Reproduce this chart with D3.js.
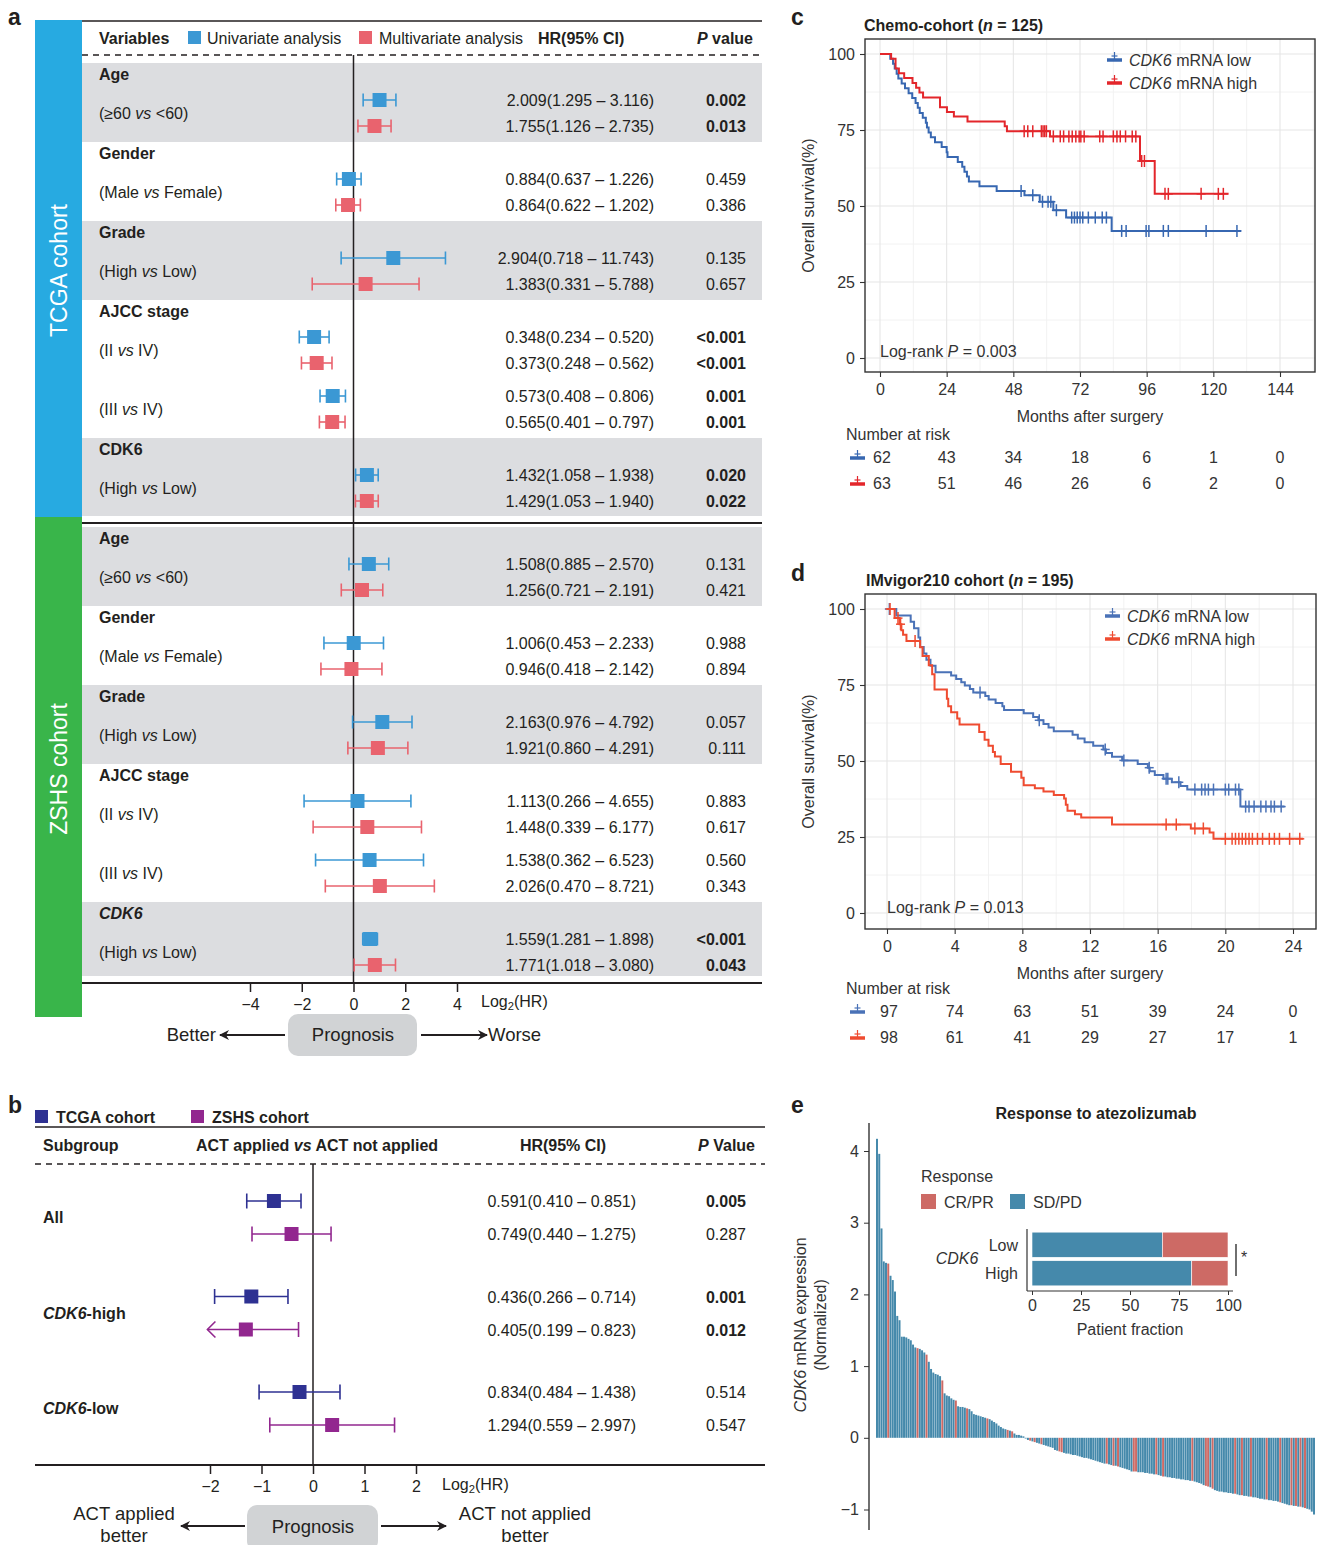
<!DOCTYPE html>
<html>
<head>
<meta charset="utf-8">
<script src="https://cdn.jsdelivr.net/npm/d3@7"></script>
<style>
body { margin: 0; background: #fff; }
svg { font-family: 'Liberation Sans', Arial, Helvetica, sans-serif; }
</style>
</head>
<body>
<div id="chart"></div>
<script>
// ---------- panel a data ----------
var aGroups = ['Age', 'Gender', 'Grade', 'AJCC stage', 'CDK6'];
var aContrasts = ['≥60 vs <60', 'Male vs Female', 'High vs Low', 'II vs IV', 'III vs IV', 'High vs Low'];
var aContrastGroup = [0, 1, 2, 3, 3, 4];

var tcgaUniHR = [2.009, 0.884, 2.904, 0.348, 0.573, 1.432];
var tcgaUniLo = [1.295, 0.637, 0.718, 0.234, 0.408, 1.058];
var tcgaUniHi = [3.116, 1.226, 11.743, 0.520, 0.806, 1.938];
var tcgaUniP = ['0.002', '0.459', '0.135', '<0.001', '0.001', '0.020'];
var tcgaMultiHR = [1.755, 0.864, 1.383, 0.373, 0.565, 1.429];
var tcgaMultiLo = [1.126, 0.622, 0.331, 0.248, 0.401, 1.053];
var tcgaMultiHi = [2.735, 1.202, 5.788, 0.562, 0.797, 1.940];
var tcgaMultiP = ['0.013', '0.386', '0.657', '<0.001', '0.001', '0.022'];

var zshsUniHR = [1.508, 1.006, 2.163, 1.113, 1.538, 1.559];
var zshsUniLo = [0.885, 0.453, 0.976, 0.266, 0.362, 1.281];
var zshsUniHi = [2.570, 2.233, 4.792, 4.655, 6.523, 1.898];
var zshsUniP = ['0.131', '0.988', '0.057', '0.883', '0.560', '<0.001'];
var zshsMultiHR = [1.256, 0.946, 1.921, 1.448, 2.026, 1.771];
var zshsMultiLo = [0.721, 0.418, 0.860, 0.339, 0.470, 1.018];
var zshsMultiHi = [2.191, 2.142, 4.291, 6.177, 8.721, 3.080];
var zshsMultiP = ['0.421', '0.894', '0.111', '0.617', '0.343', '0.043'];

var aTicks = [-4, -2, 0, 2, 4];

// ---------- panel b data ----------
var bSubgroups = ['All', 'CDK6-high', 'CDK6-low'];
var bTcgaHR = [0.591, 0.436, 0.834];
var bTcgaLo = [0.410, 0.266, 0.484];
var bTcgaHi = [0.851, 0.714, 1.438];
var bTcgaP = ['0.005', '0.001', '0.514'];
var bZshsHR = [0.749, 0.405, 1.294];
var bZshsLo = [0.440, 0.199, 0.559];
var bZshsHi = [1.275, 0.823, 2.997];
var bZshsP = ['0.287', '0.012', '0.547'];
var bTicks = [-2, -1, 0, 1, 2];

// ---------- panel c data (Kaplan-Meier steps) ----------
var cTicks = [0, 24, 48, 72, 96, 120, 144];
var cLowT = [0, 3.7, 4.7, 5.3, 6.0, 6.6, 7.8, 9.0, 10.3, 11.6, 12.8, 13.6, 14.3, 15.4, 16.5, 16.9, 17.5, 18.3, 19.8, 22.2, 24.0, 24.3, 28.0, 29.6, 30.4, 31.3, 32.0, 35.8, 42.0, 52.0, 57.5, 62.4, 67.0, 83.4];
var cLowS = [100, 98.4, 96.8, 95.2, 93.5, 91.9, 90.3, 88.7, 87.1, 85.5, 83.9, 82.3, 80.6, 79.0, 77.4, 75.8, 74.2, 72.6, 71.0, 69.4, 67.7, 66.1, 64.5, 62.9, 61.3, 59.7, 58.1, 56.5, 54.9, 53.5, 51.4, 48.6, 46.2, 41.8];
var cLowCens = [50.8, 55.0, 58.5, 60.5, 61.5, 63.5, 69, 70, 71, 72, 73, 75, 77.5, 80, 81.5, 87, 88.6, 95.8, 96.8, 102, 103.8, 117.4, 128.5];
var cLowEnd = 130;
var cHighT = [0, 4.0, 5.6, 6.8, 8.7, 11.7, 13.0, 14.2, 15.5, 21.6, 24.1, 26.6, 31.5, 44.9, 45.7, 61.2, 93.6, 98.9];
var cHighS = [100, 98.4, 95.2, 93.7, 92.1, 90.5, 88.9, 87.3, 85.7, 82.5, 80.9, 79.4, 77.8, 76.2, 74.6, 72.9, 64.8, 54.0];
var cHighCens = [51.9, 53.2, 55, 58.1, 58.7, 59.3, 59.9, 62.4, 64.9, 66.1, 68, 69.2, 70.5, 71.7, 72.3, 73.5, 79.1, 80.3, 84, 85.3, 86.5, 88.4, 90.8, 92.1, 94.2, 95.2, 102.6, 103.8, 115.6, 121.8, 123.6];
var cHighEnd = 125.5;
var cRiskLow = [62, 43, 34, 18, 6, 1, 0];
var cRiskHigh = [63, 51, 46, 26, 6, 2, 0];

// ---------- panel d data ----------
var dTicks = [0, 4, 8, 12, 16, 20, 24];
var dLowT = [0, 0.55, 1.4, 1.6, 1.86, 1.96, 2.17, 2.33, 2.57, 2.87, 3.79, 4.09, 4.39, 4.6, 4.9, 5.1, 5.81, 6.01, 6.42, 6.82, 6.92, 8.08, 8.64, 8.95, 9.25, 9.55, 9.86, 10.97, 11.28, 11.68, 12.19, 12.79, 12.94, 13.3, 13.9, 14.82, 15.42, 15.53, 15.83, 16.34, 16.84, 17.35, 17.75, 20.89];
var dLowS = [100, 97.9, 95.8, 93.7, 90.6, 87.5, 85.4, 83.3, 81.3, 79.2, 78.1, 77.0, 75.9, 74.8, 73.7, 72.5, 71.4, 70.2, 69.1, 68.0, 66.8, 65.7, 64.5, 63.4, 62.2, 61.0, 59.8, 58.6, 57.4, 56.2, 55.0, 53.8, 52.6, 51.4, 50.2, 49.0, 47.8, 46.6, 45.4, 44.2, 43.0, 41.8, 40.6, 35.0];
var dLowCens = [0.14, 5.5, 9.0, 12.9, 14.0, 15.5, 16.5, 16.6, 17.25, 18.2, 18.6, 18.8, 19.0, 19.3, 20.0, 20.2, 20.6, 20.8, 21.2, 21.4, 21.7, 22.1, 22.4, 22.7, 22.9, 23.3];
var dLowEnd = 23.5;
var dHighT = [0, 0.45, 0.75, 0.85, 0.95, 1.15, 1.96, 2.1, 2.47, 2.67, 2.81, 3.54, 3.62, 3.79, 4.15, 4.29, 5.45, 5.77, 6.0, 6.26, 6.38, 6.72, 7.33, 7.94, 8.08, 8.74, 9.25, 9.86, 10.47, 10.57, 10.67, 11.11, 11.48, 13.3, 17.96, 19.07, 19.3];
var dHighS = [100, 97.0, 95.0, 93.0, 91.5, 89.5, 87.4, 84.5, 81.5, 78.5, 73.5, 70.5, 68.0, 66.0, 64.0, 62.0, 59.5, 57.0, 55.0, 53.0, 51.5, 49.0, 46.5, 44.5, 42.0, 41.0, 40.0, 38.8, 37.7, 35.6, 33.6, 32.5, 31.4, 29.1, 27.8, 26.5, 24.4];
var dHighCens = [0.18, 0.65, 0.8, 1.66, 16.5, 17.1, 18.2, 18.7, 20.0, 20.4, 20.6, 20.8, 21.0, 21.2, 21.4, 21.6, 21.9, 22.2, 22.6, 22.9, 23.2, 23.8, 24.4];
var dHighEnd = 24.6;
var dRiskLow = [97, 74, 63, 51, 39, 24, 0];
var dRiskHigh = [98, 61, 41, 29, 27, 17, 1];

// ---------- panel e data ----------
var expr = [
  4.17, 3.96, 2.92, 2.46, 2.44, 2.43, 2.26, 2.20, 2.04, 1.70,
  1.64, 1.41, 1.41, 1.40, 1.38, 1.36, 1.30, 1.26, 1.25, 1.24,
  1.22, 1.19, 1.16, 1.06, 0.96, 0.91, 0.89, 0.88, 0.86, 0.80,
  0.62, 0.59, 0.58, 0.55, 0.53, 0.52, 0.44, 0.43, 0.43, 0.42,
  0.41, 0.40, 0.37, 0.33, 0.32, 0.31, 0.30, 0.29, 0.28, 0.27,
  0.26, 0.24, 0.22, 0.20, 0.17, 0.15, 0.13, 0.12, 0.11, 0.10,
  0.09, 0.06, 0.04, 0.04, 0.03, 0.02,
  -0.01, -0.03, -0.04, -0.05, -0.06, -0.07, -0.08, -0.09, -0.10, -0.11,
  -0.12, -0.13, -0.14, -0.17, -0.18, -0.19, -0.20, -0.21, -0.22, -0.22,
  -0.23, -0.24, -0.24, -0.25, -0.26, -0.27, -0.28, -0.28, -0.29, -0.30,
  -0.31, -0.32, -0.33, -0.34, -0.35, -0.36, -0.36, -0.37, -0.38, -0.39,
  -0.39, -0.40, -0.41, -0.42, -0.43, -0.44, -0.45, -0.47, -0.47, -0.47,
  -0.48, -0.48, -0.48, -0.49, -0.49, -0.50, -0.50, -0.51, -0.51, -0.52,
  -0.53, -0.54, -0.54, -0.55, -0.55, -0.56, -0.56, -0.57, -0.57, -0.58,
  -0.58, -0.59, -0.59, -0.60, -0.60, -0.61, -0.62, -0.63, -0.64, -0.66,
  -0.67, -0.68, -0.69, -0.71, -0.73, -0.74, -0.75, -0.75, -0.76, -0.76,
  -0.77, -0.77, -0.78, -0.78, -0.79, -0.80, -0.80, -0.81, -0.81, -0.82,
  -0.82, -0.83, -0.83, -0.84, -0.85, -0.85, -0.86, -0.86, -0.87, -0.87,
  -0.88, -0.88, -0.89, -0.90, -0.91, -0.92, -0.93, -0.94, -0.94, -0.95,
  -0.95, -0.96, -0.96, -0.97, -0.98, -0.99, -1.00, -1.03, -1.07
];
var crprIdx = [5, 18, 22, 29, 35, 40, 49, 58, 60, 68, 70, 73, 81, 82, 102, 105, 107, 114, 115, 124, 127, 140, 146, 147, 149, 159, 162, 166, 173, 179, 184, 186, 188, 190];
var insetCats = ['Low', 'High'];
var sdpdPct = [66.5, 81.5];
var eTicks = [-1, 0, 1, 2, 3, 4];
var insetTicks = [0, 25, 50, 75, 100];

// ---------- setup ----------
var ink = '#231f20';
var FS = 16;
var intFmt = d3.format('d');
var svg = d3.select('#chart').append('svg')
  .attr('width', 1317)
  .attr('height', 1545);

var defs = svg.append('defs');
defs.append('marker')
  .attr('id', 'arrowhead')
  .attr('viewBox', '0 0 10 10')
  .attr('refX', 9).attr('refY', 5)
  .attr('markerWidth', 5).attr('markerHeight', 5)
  .attr('orient', 'auto')
  .append('path').attr('d', 'M0,0 L10,5 L0,10 L3,5 Z').attr('fill', ink);

// text with mixed styles; parts = [[str, flags]] flags: i italic, b bold, n normal, s subscript
function rich(g, x, y, parts, o) {
  o = o || {};
  var size = o.size || FS;
  var t = g.append('text')
    .attr('x', x).attr('y', y)
    .attr('font-size', size)
    .attr('text-anchor', o.anchor || 'start')
    .attr('dominant-baseline', 'central')
    .attr('fill', o.fill || ink);
  if (o.bold) t.attr('font-weight', 'bold');
  if (o.transform) t.attr('transform', o.transform);
  var shifted = false;
  parts.forEach(function (p) {
    var f = p[1] || '';
    var s = t.append('tspan').text(p[0]);
    if (f.indexOf('i') >= 0) s.attr('font-style', 'italic');
    if (f.indexOf('b') >= 0) s.attr('font-weight', 'bold');
    if (f.indexOf('n') >= 0) s.attr('font-weight', 'normal');
    if (f.indexOf('s') >= 0) {
      s.attr('dy', 5).attr('font-size', size * 0.7);
      shifted = true;
    } else if (shifted) {
      s.attr('dy', -5);
      shifted = false;
    }
  });
  return t;
}

function vsParts(str) {
  var bits = str.split(' vs ');
  return [['(' + bits[0] + ' ', ''], ['vs', 'i'], [' ' + bits[1] + ')', '']];
}

function pNum(s) { return s[0] === '<' ? 0 : +s; }
function hrText(h, l, u) { return h.toFixed(3) + '(' + l.toFixed(3) + ' \u2013 ' + u.toFixed(3) + ')'; }

function errorBar(g, x, y, hr, lo, hi, color, box, cap, clipLo) {
  var lx = Math.log2(lo), arrow = false;
  if (clipLo !== undefined && lx < clipLo) { lx = clipLo; arrow = true; }
  var x0 = x(lx), x1 = x(Math.log2(hi)), xm = x(Math.log2(hr));
  g.append('line').attr('x1', x0).attr('x2', x1).attr('y1', y).attr('y2', y)
    .attr('stroke', color).attr('stroke-width', 1.6);
  if (arrow) {
    g.append('path').attr('d', 'M' + (x0 + 8) + ',' + (y - 8) + 'L' + x0 + ',' + y + 'L' + (x0 + 8) + ',' + (y + 8))
      .attr('fill', 'none').attr('stroke', color).attr('stroke-width', 1.6);
  } else {
    g.append('line').attr('x1', x0).attr('x2', x0).attr('y1', y - cap / 2).attr('y2', y + cap / 2)
      .attr('stroke', color).attr('stroke-width', 1.6);
  }
  g.append('line').attr('x1', x1).attr('x2', x1).attr('y1', y - cap / 2).attr('y2', y + cap / 2)
    .attr('stroke', color).attr('stroke-width', 1.6);
  g.append('rect').attr('x', xm - box / 2).attr('y', y - box / 2).attr('width', box).attr('height', box)
    .attr('fill', color);
}

function arrowLine(g, x1, x2, y) {
  g.append('line').attr('x1', x1).attr('x2', x2).attr('y1', y).attr('y2', y)
    .attr('stroke', ink).attr('stroke-width', 2).attr('marker-end', 'url(#arrowhead)');
}

// panel letters
[['a', 8, 17], ['b', 8, 1105], ['c', 791, 17], ['d', 791, 573], ['e', 791, 1105]].forEach(function (l) {
  svg.append('text').attr('x', l[1]).attr('y', l[2]).attr('dominant-baseline', 'central')
    .attr('font-size', 23).attr('font-weight', 'bold').attr('fill', ink).text(l[0]);
});

// ---------- panel a ----------
var gA = svg.append('g');
var ax = d3.scaleLinear().domain([-4, 4]).range([250, 457]);
var uniColor = '#3b98d4', multiColor = '#e9636e';

var cohortsA = [
  { name: 'TCGA cohort', top: 63, grayEnd: 516, band: '#27aae1', bandY: [20, 517], italicCdk6: false,
    uni: [tcgaUniHR, tcgaUniLo, tcgaUniHi, tcgaUniP], multi: [tcgaMultiHR, tcgaMultiLo, tcgaMultiHi, tcgaMultiP] },
  { name: 'ZSHS cohort', top: 527, grayEnd: 976, band: '#39b54a', bandY: [517, 1017], italicCdk6: true,
    uni: [zshsUniHR, zshsUniLo, zshsUniHi, zshsUniP], multi: [zshsMultiHR, zshsMultiLo, zshsMultiHi, zshsMultiP] }
];

cohortsA.forEach(function (c) {
  gA.append('rect').attr('x', 35).attr('y', c.bandY[0]).attr('width', 47)
    .attr('height', c.bandY[1] - c.bandY[0]).attr('fill', c.band);
  var cy = (c.bandY[0] + c.bandY[1]) / 2 + 2;
  gA.append('text').attr('x', 59).attr('y', cy)
    .attr('transform', 'rotate(-90,59,' + cy + ')')
    .attr('text-anchor', 'middle').attr('dominant-baseline', 'central')
    .attr('font-size', 23).attr('fill', '#fff').text(c.name);

  var tops = [], t = c.top;
  aGroups.forEach(function (name, gi) {
    var n = aContrastGroup.filter(function (v) { return v === gi; }).length;
    var h = 79 + 59 * (n - 1);
    tops.push(t);
    if (gi % 2 === 0) {
      gA.append('rect').attr('x', 82).attr('y', t).attr('width', 680)
        .attr('height', Math.min(h, c.grayEnd - t)).attr('fill', '#dcdde0');
    }
    rich(gA, 99, t + 11, [[name, (name === 'CDK6' && c.italicCdk6) ? 'i' : '']], { bold: true });
    t += h;
  });
  c.tops = tops;
});

// separator and frame lines
gA.append('line').attr('x1', 82).attr('x2', 762).attr('y1', 21).attr('y2', 21).attr('stroke', ink).attr('stroke-width', 1.5);
gA.append('line').attr('x1', 82).attr('x2', 762).attr('y1', 55).attr('y2', 55).attr('stroke', ink)
  .attr('stroke-width', 1.3).attr('stroke-dasharray', '6,5');
gA.append('line').attr('x1', 82).attr('x2', 762).attr('y1', 523).attr('y2', 523).attr('stroke', ink).attr('stroke-width', 2);
gA.append('line').attr('x1', ax(0)).attr('x2', ax(0)).attr('y1', 55).attr('y2', 983).attr('stroke', ink).attr('stroke-width', 1.5);
gA.append('line').attr('x1', 82).attr('x2', 762).attr('y1', 983).attr('y2', 983).attr('stroke', ink).attr('stroke-width', 2);

cohortsA.forEach(function (c) {
  aContrasts.forEach(function (ct, k) {
    var gi = aContrastGroup[k];
    var m = k - aContrastGroup.indexOf(gi);
    var base = c.tops[gi] + 59 * m;
    rich(gA, 99, base + 50, vsParts(ct));
    [[c.uni, uniColor], [c.multi, multiColor]].forEach(function (an, j) {
      var y = base + 37 + 26 * j, d = an[0];
      errorBar(gA, ax, y, d[0][k], d[1][k], d[2][k], an[1], 14, 13);
      rich(gA, 654, y, [[hrText(d[0][k], d[1][k], d[2][k]), '']], { anchor: 'end' });
      rich(gA, 746, y, [[d[3][k], '']], { anchor: 'end', bold: pNum(d[3][k]) < 0.05 });
    });
  });
});

// header a
rich(gA, 99, 38, [['Variables', '']], { bold: true });
gA.append('rect').attr('x', 188).attr('y', 31).attr('width', 13).attr('height', 13).attr('fill', uniColor);
rich(gA, 207, 38, [['Univariate analysis', '']]);
gA.append('rect').attr('x', 359).attr('y', 31).attr('width', 13).attr('height', 13).attr('fill', multiColor);
rich(gA, 379, 38, [['Multivariate analysis', '']]);
rich(gA, 538, 38, [['HR(95% CI)', '']], { bold: true });
rich(gA, 753, 38, [['P', 'i'], [' value', '']], { bold: true, anchor: 'end' });

// axis a
var axisA = gA.append('g').attr('transform', 'translate(0,983)')
  .call(d3.axisBottom(ax).tickValues(aTicks).tickFormat(intFmt).tickSize(9).tickPadding(7));
axisA.select('.domain').remove();
axisA.selectAll('line').attr('stroke', ink).attr('stroke-width', 1.5);
axisA.selectAll('text').attr('font-size', FS).attr('fill', ink).attr('font-family', null);
rich(gA, 481, 1001, [['Log', ''], ['2', 's'], ['(HR)', '']]);

gA.append('rect').attr('x', 288).attr('y', 1014).attr('width', 129).attr('height', 42).attr('rx', 10).attr('fill', '#d1d3d5');
rich(gA, 353, 1034, [['Prognosis', '']], { size: 18.5, anchor: 'middle' });
rich(gA, 216, 1034, [['Better', '']], { size: 18.5, anchor: 'end' });
rich(gA, 488, 1034, [['Worse', '']], { size: 18.5 });
arrowLine(gA, 285, 220, 1035);
arrowLine(gA, 421, 487, 1035);

// ---------- panel b ----------
var gB = svg.append('g');
var bx = d3.scaleLinear().domain([-2, 2]).range([210, 416]);
var tcgaColor = '#2e3192', zshsColor = '#92278f';

gB.append('rect').attr('x', 35).attr('y', 1110).attr('width', 13).attr('height', 13).attr('fill', tcgaColor);
rich(gB, 56, 1117, [['TCGA cohort', '']], { bold: true });
gB.append('rect').attr('x', 191).attr('y', 1110).attr('width', 13).attr('height', 13).attr('fill', zshsColor);
rich(gB, 212, 1117, [['ZSHS cohort', '']], { bold: true });

gB.append('line').attr('x1', 35).attr('x2', 765).attr('y1', 1127).attr('y2', 1127).attr('stroke', ink).attr('stroke-width', 1.5);
rich(gB, 43, 1145, [['Subgroup', '']], { bold: true });
rich(gB, 196, 1145, [['ACT applied ', ''], ['vs', 'i'], [' ACT not applied', '']], { bold: true });
rich(gB, 563, 1145, [['HR(95% CI)', '']], { bold: true, anchor: 'middle' });
rich(gB, 755, 1145, [['P', 'i'], [' Value', '']], { bold: true, anchor: 'end' });
gB.append('line').attr('x1', 35).attr('x2', 765).attr('y1', 1164).attr('y2', 1164).attr('stroke', ink)
  .attr('stroke-width', 1.3).attr('stroke-dasharray', '6,5');
gB.append('line').attr('x1', bx(0)).attr('x2', bx(0)).attr('y1', 1164).attr('y2', 1465).attr('stroke', ink).attr('stroke-width', 1.5);
gB.append('line').attr('x1', 35).attr('x2', 765).attr('y1', 1465).attr('y2', 1465).attr('stroke', ink).attr('stroke-width', 2);

bSubgroups.forEach(function (name, i) {
  var base = 1201 + 95.5 * i;
  var parts = name.indexOf('CDK6') === 0 ? [['CDK6', 'i'], [name.slice(4), '']] : [[name, '']];
  rich(gB, 43, base + 16, parts, { bold: true });
  [[bTcgaHR, bTcgaLo, bTcgaHi, bTcgaP, tcgaColor], [bZshsHR, bZshsLo, bZshsHi, bZshsP, zshsColor]].forEach(function (d, j) {
    var y = base + 33 * j;
    errorBar(gB, bx, y, d[0][i], d[1][i], d[2][i], d[4], 14, 15, -2.05);
    rich(gB, 636, y, [[hrText(d[0][i], d[1][i], d[2][i]), '']], { anchor: 'end' });
    rich(gB, 746, y, [[d[3][i], '']], { anchor: 'end', bold: pNum(d[3][i]) < 0.05 });
  });
});

var axisB = gB.append('g').attr('transform', 'translate(0,1465)')
  .call(d3.axisBottom(bx).tickValues(bTicks).tickFormat(intFmt).tickSize(9).tickPadding(7));
axisB.select('.domain').remove();
axisB.selectAll('line').attr('stroke', ink).attr('stroke-width', 1.5);
axisB.selectAll('text').attr('font-size', FS).attr('fill', ink).attr('font-family', null);
rich(gB, 442, 1484, [['Log', ''], ['2', 's'], ['(HR)', '']]);

gB.append('rect').attr('x', 247).attr('y', 1505).attr('width', 131).attr('height', 46).attr('rx', 10).attr('fill', '#d1d3d5');
rich(gB, 313, 1526, [['Prognosis', '']], { size: 18.5, anchor: 'middle' });
rich(gB, 124, 1513, [['ACT applied', '']], { size: 18.5, anchor: 'middle' });
rich(gB, 124, 1535, [['better', '']], { size: 18.5, anchor: 'middle' });
rich(gB, 525, 1513, [['ACT not applied', '']], { size: 18.5, anchor: 'middle' });
rich(gB, 525, 1535, [['better', '']], { size: 18.5, anchor: 'middle' });
arrowLine(gB, 245, 181, 1526);
arrowLine(gB, 381, 446, 1526);

// ---------- panels c and d (Kaplan-Meier) ----------
function survAt(T, S, t) {
  var s = S[0];
  for (var i = 0; i < T.length; i++) { if (T[i] <= t) s = S[i]; }
  return s;
}

function plusMark(g, px, py, color, hw, hh, sw) {
  g.append('line').attr('x1', px - hw).attr('x2', px + hw).attr('y1', py).attr('y2', py).attr('stroke', color).attr('stroke-width', sw);
  g.append('line').attr('x1', px).attr('x2', px).attr('y1', py - hh).attr('y2', py + hh).attr('stroke', color).attr('stroke-width', sw);
}

function legendSym(g, x0, y, color) {
  g.append('line').attr('x1', x0).attr('x2', x0 + 15).attr('y1', y).attr('y2', y).attr('stroke', color).attr('stroke-width', 3.5);
  g.append('line').attr('x1', x0 + 4.5).attr('x2', x0 + 10.5).attr('y1', y - 4).attr('y2', y - 4).attr('stroke', color).attr('stroke-width', 1.2);
  g.append('line').attr('x1', x0 + 7.5).attr('x2', x0 + 7.5).attr('y1', y - 8).attr('y2', y).attr('stroke', color).attr('stroke-width', 1.2);
}

function kmPanel(o) {
  var g = svg.append('g');
  var x = o.x, y = o.y, b = o.box;
  // minor grid
  o.ticks.forEach(function (t) {
    var mt = t + o.minorStep;
    if (x(mt) < b[1]) g.append('line').attr('x1', x(mt)).attr('x2', x(mt)).attr('y1', b[2]).attr('y2', b[3]).attr('stroke', '#f2f2f2');
  });
  [12.5, 37.5, 62.5, 87.5].forEach(function (v) {
    g.append('line').attr('x1', b[0]).attr('x2', b[1]).attr('y1', y(v)).attr('y2', y(v)).attr('stroke', '#f2f2f2');
  });
  // major grid
  o.ticks.forEach(function (t) {
    g.append('line').attr('x1', x(t)).attr('x2', x(t)).attr('y1', b[2]).attr('y2', b[3]).attr('stroke', '#e6e6e6').attr('stroke-width', 1.1);
  });
  [0, 25, 50, 75, 100].forEach(function (v) {
    g.append('line').attr('x1', b[0]).attr('x2', b[1]).attr('y1', y(v)).attr('y2', y(v)).attr('stroke', '#e6e6e6').attr('stroke-width', 1.1);
  });

  o.curves.forEach(function (c) {
    var pts = c.T.map(function (t, i) { return [t, c.S[i]]; });
    pts.push([c.end, c.S[c.S.length - 1]]);
    g.append('path')
      .attr('d', d3.line().x(function (d) { return x(d[0]); }).y(function (d) { return y(d[1]); }).curve(d3.curveStepAfter)(pts))
      .attr('fill', 'none').attr('stroke', c.color).attr('stroke-width', 2);
    c.cens.forEach(function (t) {
      plusMark(g, x(t), y(survAt(c.T, c.S, t)), c.color, 4.5, 6, 1.5);
    });
  });

  g.append('rect').attr('x', b[0]).attr('y', b[2]).attr('width', b[1] - b[0]).attr('height', b[3] - b[2])
    .attr('fill', 'none').attr('stroke', '#333').attr('stroke-width', 1.4);

  var xa = g.append('g').attr('transform', 'translate(0,' + b[3] + ')')
    .call(d3.axisBottom(x).tickValues(o.ticks).tickSize(5).tickPadding(7));
  xa.select('.domain').remove();
  var ya = g.append('g').attr('transform', 'translate(' + b[0] + ',0)')
    .call(d3.axisLeft(y).tickValues([0, 25, 50, 75, 100]).tickSize(5).tickPadding(5));
  ya.select('.domain').remove();
  [xa, ya].forEach(function (a) {
    a.selectAll('line').attr('stroke', '#333').attr('stroke-width', 1.1);
    a.selectAll('text').attr('font-size', FS).attr('fill', '#333').attr('font-family', null);
  });

  rich(g, o.titleX, o.titleY, o.title, { bold: true });
  var my = (b[2] + b[3]) / 2;
  rich(g, 808, my, [['Overall survival(%)', '']], { anchor: 'middle', fill: '#333', transform: 'rotate(-90,808,' + my + ')' });
  rich(g, 1090, b[3] + 44, [['Months after surgery', '']], { anchor: 'middle', fill: '#333' });
  rich(g, o.pX, o.pY, [['Log-rank ', ''], ['P', 'i'], [' = ' + o.pVal, '']], { fill: '#333' });

  o.curves.forEach(function (c, i) {
    legendSym(g, o.legX, o.legY + 23 * i, c.color);
    rich(g, o.legX + 22, o.legY + 23 * i, [['CDK6', 'i'], [' mRNA ' + c.name, '']], { fill: '#333' });
  });

  rich(g, 846, o.riskY, [['Number at risk', '']], { fill: '#333' });
  o.curves.forEach(function (c, i) {
    var ry = o.riskY + 23 + 26 * i;
    legendSym(g, 850, ry + 1, c.color);
    c.risk.forEach(function (v, k) {
      rich(g, x(o.ticks[k]) + (k === 0 ? 2 : 0), ry, [[String(v), '']], { anchor: 'middle', fill: '#333' });
    });
  });
}

kmPanel({
  x: d3.scaleLinear().domain([0, 144]).range([880, 1280]),
  y: d3.scaleLinear().domain([0, 100]).range([358, 54]),
  box: [865, 1315, 39, 372],
  ticks: cTicks, minorStep: 12,
  title: [['Chemo-cohort (', ''], ['n', 'i'], [' = 125)', '']], titleX: 864, titleY: 25,
  pX: 880, pY: 351, pVal: '0.003',
  legX: 1107, legY: 60,
  riskY: 434,
  curves: [
    { name: 'low', T: cLowT, S: cLowS, cens: cLowCens, end: cLowEnd, color: '#3767b1', risk: cRiskLow },
    { name: 'high', T: cHighT, S: cHighS, cens: cHighCens, end: cHighEnd, color: '#e3262b', risk: cRiskHigh }
  ]
});

kmPanel({
  x: d3.scaleLinear().domain([0, 24]).range([887, 1293]),
  y: d3.scaleLinear().domain([0, 100]).range([913, 609]),
  box: [865, 1316, 594, 929],
  ticks: dTicks, minorStep: 2,
  title: [['IMvigor210 cohort (', ''], ['n', 'i'], [' = 195)', '']], titleX: 866, titleY: 580,
  pX: 887, pY: 907, pVal: '0.013',
  legX: 1105, legY: 616,
  riskY: 988,
  curves: [
    { name: 'low', T: dLowT, S: dLowS, cens: dLowCens, end: dLowEnd, color: '#4a72b7', risk: dRiskLow },
    { name: 'high', T: dHighT, S: dHighS, cens: dHighCens, end: dHighEnd, color: '#ef4b30', risk: dRiskHigh }
  ]
});

// ---------- panel e ----------
var gE = svg.append('g');
var crprColor = '#cd6a65', sdpdColor = '#4589ab';
var ey = d3.scaleLinear().domain([-1, 4]).range([1509.5, 1151]);
var ex = d3.scaleBand().domain(d3.range(expr.length)).range([876, 1315]).paddingInner(0.12);

rich(gE, 1096, 1113, [['Response to atezolizumab', '']], { bold: true, anchor: 'middle' });

gE.selectAll('rect.bar').data(expr).enter().append('rect')
  .attr('class', 'bar')
  .attr('x', function (d, i) { return ex(i); })
  .attr('width', ex.bandwidth())
  .attr('y', function (d) { return ey(Math.max(d, 0)); })
  .attr('height', function (d) { return Math.abs(ey(d) - ey(0)); })
  .attr('fill', function (d, i) { return crprIdx.indexOf(i) >= 0 ? crprColor : sdpdColor; });

gE.append('line').attr('x1', 869).attr('x2', 869).attr('y1', 1123).attr('y2', 1530).attr('stroke', '#333').attr('stroke-width', 1.4);
var eAxis = gE.append('g').attr('transform', 'translate(869,0)')
  .call(d3.axisLeft(ey).tickValues(eTicks).tickFormat(intFmt).tickSize(5).tickPadding(5));
eAxis.select('.domain').remove();
eAxis.selectAll('line').attr('stroke', '#333');
eAxis.selectAll('text').attr('font-size', FS).attr('fill', '#333').attr('font-family', null);

rich(gE, 800, 1325, [['CDK6', 'i'], [' mRNA expression', '']], { anchor: 'middle', fill: '#333', transform: 'rotate(-90,800,1325)' });
rich(gE, 820, 1325, [['(Normalized)', '']], { anchor: 'middle', fill: '#333', transform: 'rotate(-90,820,1325)' });

// inset legend
rich(gE, 921, 1176, [['Response', '']], { fill: '#333' });
gE.append('rect').attr('x', 921).attr('y', 1194).attr('width', 15).attr('height', 15).attr('fill', crprColor);
rich(gE, 944, 1202, [['CR/PR', '']], { fill: '#333' });
gE.append('rect').attr('x', 1010).attr('y', 1194).attr('width', 15).attr('height', 15).attr('fill', sdpdColor);
rich(gE, 1033, 1202, [['SD/PD', '']], { fill: '#333' });

// inset stacked bars
var ix = d3.scaleLinear().domain([0, 100]).range([1032, 1228]);
var iy = d3.scaleBand().domain(insetCats).range([1231, 1287]).paddingInner(0.12).paddingOuter(0.04);
insetCats.forEach(function (cat, i) {
  gE.append('rect').attr('x', ix(0)).attr('y', iy(cat)).attr('width', ix(sdpdPct[i]) - ix(0)).attr('height', iy.bandwidth())
    .attr('fill', sdpdColor).attr('stroke', '#fff').attr('stroke-width', 0.6);
  gE.append('rect').attr('x', ix(sdpdPct[i])).attr('y', iy(cat)).attr('width', ix(100) - ix(sdpdPct[i])).attr('height', iy.bandwidth())
    .attr('fill', crprColor).attr('stroke', '#fff').attr('stroke-width', 0.6);
  rich(gE, 1018, iy(cat) + iy.bandwidth() / 2, [[cat, '']], { anchor: 'end', fill: '#333' });
});
gE.append('line').attr('x1', 1027).attr('x2', 1027).attr('y1', 1229).attr('y2', 1291).attr('stroke', '#333').attr('stroke-width', 1.2);
gE.append('line').attr('x1', 1027).attr('x2', 1233).attr('y1', 1291).attr('y2', 1291).attr('stroke', '#333').attr('stroke-width', 1.2);
var iAxis = gE.append('g').attr('transform', 'translate(0,1291)')
  .call(d3.axisBottom(ix).tickValues(insetTicks).tickSize(4).tickPadding(5));
iAxis.select('.domain').remove();
iAxis.selectAll('line').attr('stroke', '#333');
iAxis.selectAll('text').attr('font-size', FS).attr('fill', '#333').attr('font-family', null);
rich(gE, 957, 1258, [['CDK6', 'i']], { anchor: 'middle', fill: '#333' });
gE.append('line').attr('x1', 1236).attr('x2', 1236).attr('y1', 1244).attr('y2', 1276).attr('stroke', '#333').attr('stroke-width', 1.4);
rich(gE, 1241, 1257, [['*', '']], { fill: '#333' });
rich(gE, 1130, 1329, [['Patient fraction', '']], { anchor: 'middle', fill: '#333' });
</script>
</body>
</html>
